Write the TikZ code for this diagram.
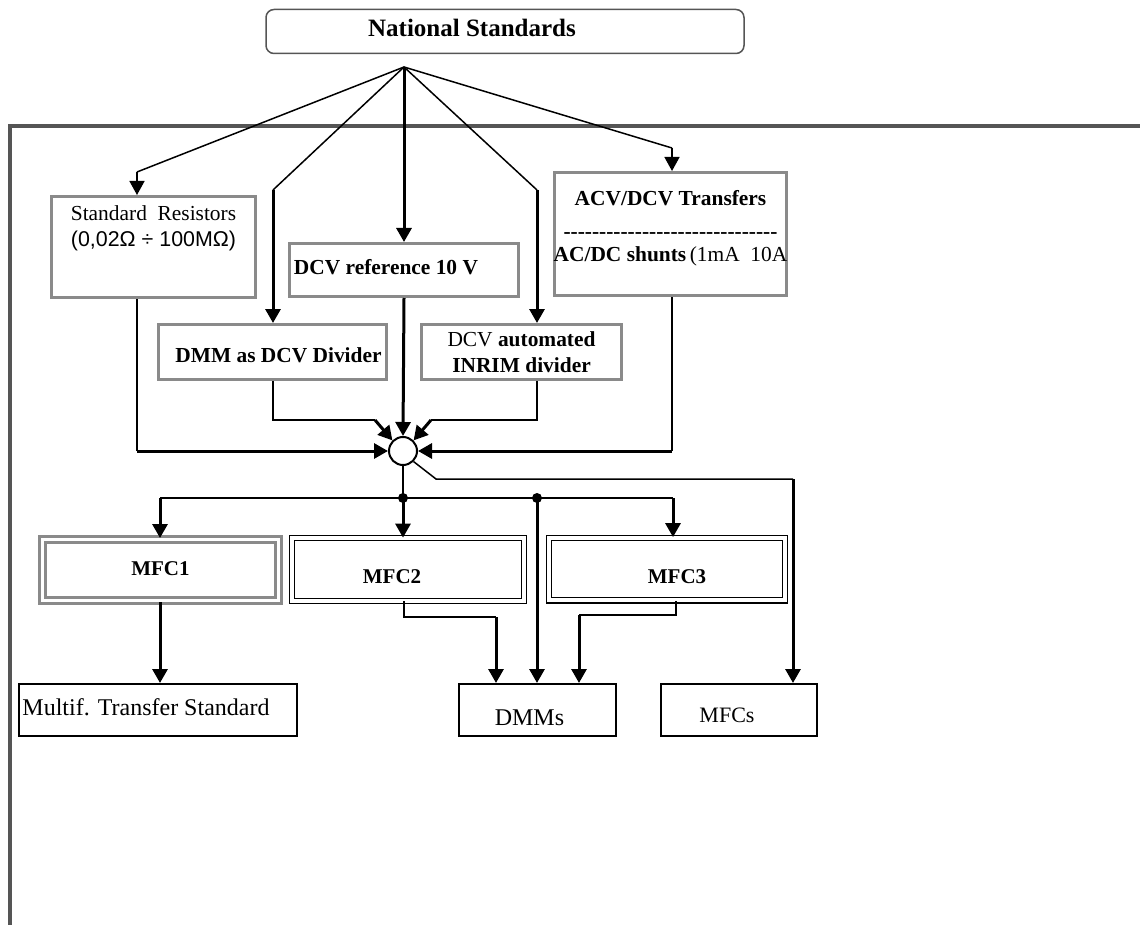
\documentclass[tikz,border=0pt]{standalone}
\usepackage{fontspec}
\setmainfont{Liberation Serif}
\setsansfont{Liberation Sans}
\usetikzlibrary{arrows.meta}

\definecolor{boxgray}{HTML}{8A8A8A}
\definecolor{framegray}{HTML}{555555}

\newcommand\basefont{\fontsize{10.7}{12.8}\selectfont}
\newcommand\dashline{\foreach \n in {1,...,30}{\mbox{-}}}

\tikzset{
  fixtext/.style={text height=7pt, text depth=2pt},
  headbox/.style={draw=framegray, line width=0.75pt, rounded corners=4pt, minimum width=239pt, minimum height=22pt, inner sep=0pt, fixtext, font=\fontsize{12.5}{15}\selectfont\bfseries},
  graybox/.style={draw=boxgray, line width=1.5pt, inner sep=2pt, font=\basefont},
  mfcgray/.style={draw=boxgray, line width=1.5pt, double=white, double distance=1.5pt, inner sep=0pt, fixtext, font=\fontsize{10.5}{12}\selectfont\bfseries},
  mfcblack/.style={draw=black, line width=0.6pt, double=white, double distance=2pt, inner sep=0pt, fixtext, font=\fontsize{10.5}{12}\selectfont\bfseries},
  outbox/.style={draw=black, line width=1pt, inner sep=0pt, minimum height=26pt, fixtext},
  sumnode/.style={circle, draw=black, line width=1pt, minimum size=14pt, inner sep=0pt},
  wire/.style={line width=0.75pt},
  arr/.style={line width=1.5pt, -{Triangle[length=7pt,width=7.5pt]}},
  frameline/.style={draw=framegray, line width=2pt}
}

\begin{document}
\begin{tikzpicture}[x=0.5pt,y=-0.5pt]
  \useasboundingbox (0,0) rectangle (1140,925);

  % Frame
  \draw[frameline] (1140,126) -- (10,126) -- (10,925);

  % Nodes
  \node[headbox] (ns) at (505,31.5) {National Standards\hspace*{33pt}}; %
  \node[graybox, minimum width=102pt, minimum height=50.5pt,
        label={[anchor=north, align=center, yshift=-2pt, font=\basefont]north:{Standard\ \ Resistors\\{\sffamily (0,02Ω ÷ 100MΩ)}}}] (stdres) at (153.5,247) {}; %
  \node[graybox, fixtext, minimum width=113.5pt, minimum height=26.5pt, font=\basefont\bfseries] (dcvref) at (404,270) {DCV reference 10 V\hspace*{18pt}}; %
  \node[graybox, fixtext, minimum width=114pt, minimum height=27.5pt, font=\basefont\bfseries] (dmmdiv) at (272.5,352) {\hspace*{6pt}\raisebox{-2.5pt}{DMM as DCV Divider}}; %
  \node[graybox, minimum width=100pt, minimum height=27.5pt, align=center] (inrim) at (521.5,352) {DCV \textbf{automated}\\\textbf{INRIM divider}}; %
  \node[graybox, minimum width=116pt, minimum height=61.5pt,
        label={[anchor=north, align=center, yshift=-6pt, font=\basefont]north:{\textbf{ACV/DCV Transfers}\\[4pt]\textbf{\dashline}\\[-1.5pt]\textbf{AC/DC shunts}\,(1mA\ \ 10A}}] (acdc) at (670.5,234) {}; %
  \node[sumnode] (sum) at (403,451) {}; %
  \node[mfcgray, minimum width=118pt, minimum height=30.5pt] (mfcone) at (160.5,570) {MFC1}; %
  \node[mfcblack, minimum width=115.8pt, minimum height=31.3pt] (mfctwo) at (408,569.5) {\raisebox{-4.5pt}{MFC2}\hspace*{16pt}}; %
  \node[mfcblack, minimum width=117.8pt, minimum height=31.3pt] (mfcthree) at (667,569) {\hspace*{10pt}\raisebox{-4.5pt}{MFC3}}; %
  \node[outbox, minimum width=139pt, font=\fontsize{12}{14}\selectfont] (mts) at (158,710) {Multif. Transfer Standard\hspace*{12pt}}; %
  \node[outbox, minimum width=78.5pt, font=\fontsize{12}{14}\selectfont] (dmms) at (537.5,710) {\raisebox{-5pt}{DMMs}\hspace*{8pt}}; %
  \node[outbox, minimum width=78pt, font=\fontsize{11}{13}\selectfont] (mfcs) at (739,710) {\raisebox{-3.5pt}{MFCs}\hspace*{12pt}}; %

  % Bends
  \coordinate (fan) at (404,67);
  \coordinate (ka) at (137,172);
  \coordinate (kb) at (273,190);
  \coordinate (kc) at (537,190);
  \coordinate (kd) at (672,148);
  \coordinate (ja) at (375,420);
  \coordinate (jb) at (431,420);
  \coordinate (jc) at (436,479);
  \coordinate (jd) at (793,479);
  \coordinate (je) at (403,498);
  \coordinate (jf) at (537,498);
  \coordinate (jl) at (160,498);
  \coordinate (jr) at (673,498);
  \coordinate (jg) at (404,617);
  \coordinate (jh) at (496,617);
  \coordinate (ji) at (676,615);
  \coordinate (jj) at (579,615);

  % Edges
  \draw[wire] (fan) -- (ka); \draw[arr, line width=0.75pt] (ka) -- (ka |- stdres.north);
  \draw[wire] (fan) -- (kb); \draw[arr] (kb) -- (kb |- dmmdiv.north);
  \draw[arr] (fan) -- (fan |- dcvref.north);
  \draw[wire] (fan) -- (kc); \draw[arr] (kc) -- (kc |- inrim.north);
  \draw[wire] (fan) -- (kd); \draw[arr, line width=0.75pt] (kd) -- (kd |- acdc.north);

  \draw[wire] (ka |- stdres.south) -- (ka |- sum.west); \draw[arr] (ka |- sum.west) -- (sum.west);
  \draw[wire] (kb |- dmmdiv.south) -- (kb |- ja) -- (ja); \draw[arr] (ja) -- (sum.north west);
  \draw[arr] (fan |- dcvref.south) -- (sum.north);
  \draw[wire] (kc |- inrim.south) -- (kc |- jb) -- (jb); \draw[arr] (jb) -- (sum.north east);
  \draw[wire] (kd |- acdc.south) -- (kd |- sum.east); \draw[arr] (kd |- sum.east) -- (sum.east);

  \draw[wire] (sum.south east) -- (jc) -- (jd); \draw[arr] (jd) -- (jd |- mfcs.north);
  \draw[wire] (sum.south) -- (je);
  \draw[wire] (jl) -- (jr);
  \fill (je) circle[radius=2.5pt]; \fill (jf) circle[radius=2.5pt];
  \draw[arr] (jl) -- (jl |- mfcone.north);
  \draw[arr] (je) -- (je |- mfctwo.north);
  \draw[arr] (jr) -- (jr |- mfcthree.north);
  \draw[arr] (jf) -- (jf |- dmms.north);
  \draw[wire] (jg |- mfctwo.south) -- (jg) -- (jh); \draw[arr] (jh) -- (jh |- dmms.north);
  \draw[wire] (ji |- mfcthree.south) -- (ji) -- (jj); \draw[arr] (jj) -- (jj |- dmms.north);
  \draw[arr] (jl |- mfcone.south) -- (jl |- mts.north);
\end{tikzpicture}
\end{document}
